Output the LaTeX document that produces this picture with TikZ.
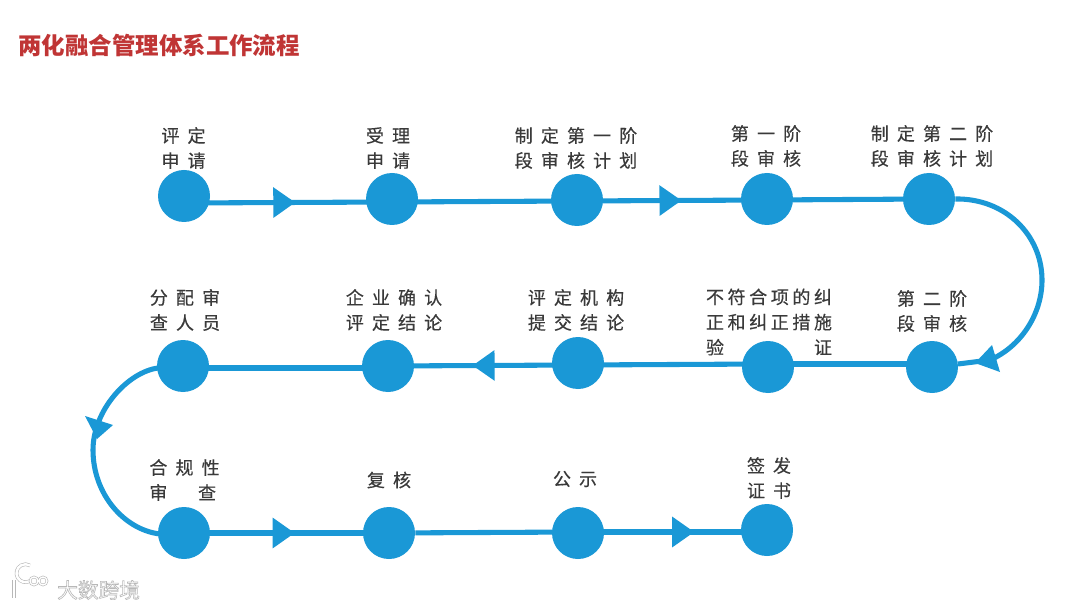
\documentclass[tikz,border=0pt]{standalone}
\usepackage{fontspec}
\usetikzlibrary{arrows.meta,decorations.markings,calc,backgrounds}
\setmainfont{Noto Sans CJK SC}
\newfontfamily\spwide[LetterSpace=45,FakeBold=0.35]{Noto Sans CJK SC}
\newfontfamily\spmid[LetterSpace=20,FakeBold=0.35]{Noto Sans CJK SC}
\definecolor{flowblue}{HTML}{1A98D6}
\definecolor{labeltext}{HTML}{3A3A3A}
\definecolor{titlered}{HTML}{C03535}
\tikzset{
 x=0.75pt,y=-0.75pt,
 stepdot/.style={circle,fill=flowblue,draw=none,minimum size=39pt,inner sep=0pt},
 flow/.style={draw=flowblue,line width=3.8pt},
 tipat/.style={postaction={decorate,decoration={markings,mark=at position #1 with {\arrow[flowblue]{Triangle[length=16.5pt,width=22pt]}}}}},
 headtri/.style={fill=flowblue,draw=none},
 lbl/.style={text=labeltext,font=\fontsize{13.5pt}{18.75pt}\selectfont\spwide,align=left,inner sep=0pt,anchor=center},
 lblm/.style={lbl,font=\fontsize{13.5pt}{18.9pt}\selectfont\spmid},
 wmline/.style={white,line width=#1,preaction={draw=black!28,line width=#1+0.9pt}},
}
\begin{document}
\begin{tikzpicture}
\useasboundingbox (0,0) rectangle (1080,609);
\node[anchor=west,inner sep=0pt,text=titlered,font=\fontsize{17.6pt}{20pt}\selectfont\bfseries] (title) at (18,45) {两化融合管理体系工作流程};

\node[stepdot] (n1) at (184,196) {};
\node[stepdot] (n2) at (392,199) {};
\node[stepdot] (n3) at (577,200) {};
\node[stepdot] (n4) at (767,199) {};
\node[stepdot] (n5) at (929,199) {};
\node[stepdot] (n6) at (932,367) {};
\node[stepdot] (n7) at (768,367) {};
\node[stepdot] (n8) at (578,363) {};
\node[stepdot] (n9) at (388,366) {};
\node[stepdot] (n10) at (183,366) {};
\node[stepdot] (n11) at (184,533) {};
\node[stepdot] (n12) at (389,533) {};
\node[stepdot] (n13) at (578,533) {};
\node[stepdot] (n14) at (767,530) {};

\begin{scope}[on background layer]
\fill[white] (0,0) rectangle (1080,609);
\draw[flow,tipat=0.535] ($(n1)+(0,7)$) -- ($(n2)+(0,3)$);
\draw[flow] ($(n2)+(0,3)$) -- ($(n3)+(0,1)$);
\draw[flow,tipat=0.55] ($(n3)+(0,1)$) -- ($(n4)+(0,1)$);
\draw[flow] ($(n4)+(0,1)$) -- ($(n5)+(0,0)$);
\draw[flow] (n5.east) .. controls (1005,198) and (1042,235) .. (1042,280) .. controls (1042,315) and (1020,347) .. (990,360) -- ($(n6)+(26,-3)$);
\fill[headtri] (975,363) -- (992,345) -- (1000,372) -- cycle;
\draw[flow] ($(n6)+(0,-3)$) -- ($(n7)+(0,-3)$);
\draw[flow] ($(n7)+(0,-3)$) -- ($(n8)+(0,2)$);
\draw[flow,tipat=0.555] ($(n8)+(0,2)$) -- ($(n9)+(0,0)$);
\draw[flow] ($(n9)+(0,2)$) -- ($(n10)+(0,2)$);
\draw[flow] ($(n10)+(-25,2)$) .. controls (128,372) and (93,410) .. (93,450) .. controls (93,495) and (125,530) .. ($(n11)+(-24,1)$);
\fill[headtri] (85,416) -- (113,425) -- (97,439) -- cycle;
\draw[flow,tipat=0.54] ($(n11)+(0,0)$) -- ($(n12)+(0,0)$);
\draw[flow] (n12) -- ($(n13)+(0,-1)$);
\draw[flow,tipat=0.615] ($(n13)+(0,-1)$) -- ($(n14)+(0,2)$);
\end{scope}

\node[lbl] (t1) at (183.5,148) {评定\\申请};
\node[lbl] (t2) at (388,148) {受理\\申请};
\node[lbl] (t3) at (576,148) {制定第一阶\\段审核计划};
\node[lbl] (t4) at (766,146) {第一阶\\段审核};
\node[lbl] (t5) at (932,146) {制定第二阶\\段审核计划};
\node[lbl] (t6) at (932,311) {第二阶\\段审核};
\node[lblm] (t7) at (769,322) {不符合项的纠\\正和纠正措施\\\makebox[94.5pt][s]{验\hfill 证}};
\node[lbl] (t8) at (576,310) {评定机构\\提交结论};
\node[lbl] (t9) at (394,310) {企业确认\\评定结论};
\node[lbl] (t10) at (185,310) {分配审\\查人员};
\node[lbl] (t11) at (184.5,480) {合规性\\\makebox[50pt][s]{审\hfill 查}};
\node[lbl] (t12) at (389,480) {复核};
\node[lbl] (t13) at (575,479) {公示};
\node[lbl] (t14) at (769,478) {签发\\证书};

\node[anchor=west,inner sep=0pt,font=\fontsize{15.5pt}{18pt}\selectfont] (wm) at (57,590) {\special{pdf:code 2 Tr 0.45 w 0.72 G 1 g}大数跨境\special{pdf:code 0 Tr 0 G 0 g}};
\draw[wmline=1.8pt] (14,580) -- (14,598);
\draw[wmline=1.8pt] (30,581) arc[start angle=60,end angle=300,radius=9];
\draw[wmline=1pt] (34,581) circle[radius=4] (43,581) circle[radius=4];
\end{tikzpicture}
\end{document}
